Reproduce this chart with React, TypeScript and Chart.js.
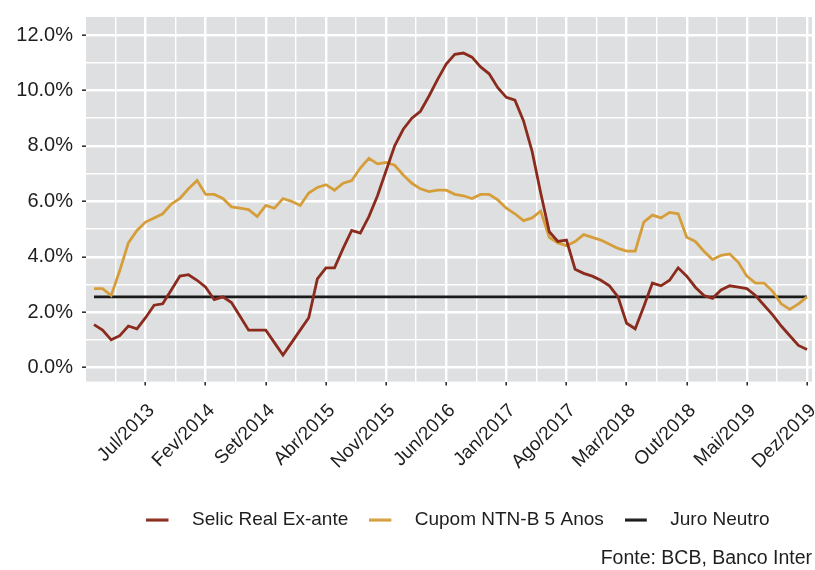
import React, { useEffect, useRef } from 'react';
import { Chart, registerables } from 'chart.js';

Chart.register(...registerables);

// Monthly values, Jan/2013 (index 0) .. Dez/2019 (index 83)
const selicRealExAnte = [
  1.55, 1.35, 1.0, 1.15, 1.5, 1.4, 1.8, 2.25, 2.3, 2.8,
  3.3, 3.35, 3.15, 2.9, 2.45, 2.55, 2.35, 1.85, 1.35, 1.35,
  1.35, 0.9, 0.45, 0.9, 1.35, 1.8, 3.2, 3.6, 3.6, 4.3,
  4.95, 4.85, 5.45, 6.2, 7.1, 8.0, 8.6, 9.0, 9.25, 9.8,
  10.4, 10.95, 11.3, 11.35, 11.2, 10.85, 10.6, 10.1, 9.75, 9.65,
  8.9, 7.8, 6.3, 4.9, 4.55, 4.6, 3.55, 3.4, 3.3, 3.15,
  2.95, 2.55, 1.6, 1.4, 2.2, 3.05, 2.95, 3.15, 3.6, 3.3,
  2.9, 2.6, 2.5, 2.8, 2.95, 2.9, 2.85, 2.6, 2.25, 1.9,
  1.5, 1.15, 0.8, 0.65,
];

const cupomNtnb5Anos = [
  2.85, 2.85, 2.6, 3.5, 4.5, 4.95, 5.25, 5.4, 5.55, 5.9,
  6.1, 6.45, 6.75, 6.25, 6.25, 6.1, 5.8, 5.75, 5.7, 5.45,
  5.85, 5.75, 6.1, 6.0, 5.85, 6.3, 6.5, 6.6, 6.4, 6.65,
  6.75, 7.2, 7.55, 7.35, 7.4, 7.3, 6.95, 6.65, 6.45, 6.35,
  6.4, 6.4, 6.25, 6.2, 6.1, 6.25, 6.25, 6.05, 5.75, 5.55,
  5.3, 5.4, 5.65, 4.7, 4.5, 4.4, 4.55, 4.8, 4.7, 4.6,
  4.45, 4.3, 4.2, 4.2, 5.25, 5.5, 5.4, 5.6, 5.55, 4.7,
  4.55, 4.2, 3.9, 4.05, 4.1, 3.8, 3.3, 3.05, 3.05, 2.75,
  2.3, 2.1, 2.3, 2.55,
];

const juroNeutro = 2.55;

const tickMonths = [6, 13, 20, 27, 34, 41, 48, 55, 62, 69, 76, 83];
const tickLabels = [
  'Jul/2013', 'Fev/2014', 'Set/2014', 'Abr/2015', 'Nov/2015', 'Jun/2016',
  'Jan/2017', 'Ago/2017', 'Mar/2018', 'Out/2018', 'Mai/2019', 'Dez/2019',
];
const yMajor = [0, 2, 4, 6, 8, 10, 12];
const yMinor = [1, 3, 5, 7, 9, 11];

const seriesLabels = ['Selic Real Ex-ante', 'Cupom NTN-B 5 Anos', 'Juro Neutro'];
const sourceText = 'Fonte: BCB, Banco Inter';

const COLORS = ['#8b2b1d', '#d69e3a', '#1a1a1a'];
const PANEL = '#dedfe1';
const TEXT = '#1e1e1e';
const FONT = "'Liberation Sans', Arial, sans-serif";

export default function App() {
  const ref = useRef<HTMLCanvasElement | null>(null);

  useEffect(() => {
    document.body.style.margin = '0';
    const canvas = ref.current;
    if (!canvas) return;

    const swatch = (color: string) => {
      const c = document.createElement('canvas');
      c.width = 36;
      c.height = 4;
      const g = c.getContext('2d')!;
      g.fillStyle = color;
      g.fillRect(0, 0.5, 22, 3);
      return c;
    };
    const swatches = COLORS.map(swatch);

    const panelPlugin = {
      id: 'panelBg',
      beforeDraw(chart: any) {
        const { ctx, chartArea: a } = chart;
        ctx.save();
        ctx.fillStyle = PANEL;
        ctx.fillRect(a.left, a.top, a.right - a.left, a.bottom - a.top);
        ctx.restore();
      },
    };

    // nudge the legend block a little to the right, as in the reference
    const legendShift = {
      id: 'legendShift',
      afterLayout(chart: any) {
        const l = chart.legend;
        if (l) {
          l.left += 9;
          l.right += 9;
        }
      },
    };

    const xMinor = tickMonths.map((m) => m - 3.5);
    const isXMajor = (v: number) => tickMonths.indexOf(v) >= 0;
    const isYMajor = (v: number) => yMajor.indexOf(v) >= 0;

    const lastIdx = selicRealExAnte.length - 1;

    const chart = new Chart(canvas, {
      type: 'line',
      data: {
        datasets: [
          {
            label: seriesLabels[0],
            data: selicRealExAnte.map((v, i) => ({ x: i, y: v })),
            borderColor: COLORS[0],
            backgroundColor: COLORS[0],
            borderWidth: 2.8,
            pointRadius: 0,
            tension: 0,
          },
          {
            label: seriesLabels[1],
            data: cupomNtnb5Anos.map((v, i) => ({ x: i, y: v })),
            borderColor: COLORS[1],
            backgroundColor: COLORS[1],
            borderWidth: 2.8,
            pointRadius: 0,
            tension: 0,
          },
          {
            label: seriesLabels[2],
            data: [
              { x: 0, y: juroNeutro },
              { x: lastIdx, y: juroNeutro },
            ],
            borderColor: COLORS[2],
            backgroundColor: COLORS[2],
            borderWidth: 2.8,
            pointRadius: 0,
            tension: 0,
          },
        ],
      },
      options: {
        animation: false,
        responsive: false,
        events: [],
        layout: { padding: { top: 17, right: 3, left: 0, bottom: 0 } },
        scales: {
          x: {
            type: 'linear',
            min: -0.93,
            max: 83.58,
            afterBuildTicks: (s: any) => {
              const vals = [...xMinor, ...tickMonths].sort((a, b) => a - b);
              s.ticks = vals.map((v) => ({ value: v }));
            },
            afterFit: (s: any) => {
              s.height = 108;
              s.paddingLeft = 0;
              s.paddingRight = 0;
            },
            border: { display: false },
            grid: {
              color: '#ffffff',
              lineWidth: (c: any) => (c.tick && isXMajor(c.tick.value) ? 2.4 : 1.4),
              tickColor: (c: any) => (c.tick && isXMajor(c.tick.value) ? '#333333' : 'rgba(0,0,0,0)'),
              tickWidth: 1.6,
              tickLength: 4,
            },
            ticks: {
              autoSkip: false,
              maxRotation: 45,
              minRotation: 45,
              padding: 14,
              labelOffset: 6,
              color: TEXT,
              font: { family: FONT, size: 19 },
              callback: (v: any) => {
                const k = tickMonths.indexOf(Number(v));
                return k >= 0 ? tickLabels[k] : '';
              },
            },
          },
          y: {
            type: 'linear',
            min: -0.506,
            max: 12.65,
            afterBuildTicks: (s: any) => {
              const vals = [...yMajor, ...yMinor].sort((a, b) => a - b);
              s.ticks = vals.map((v) => ({ value: v }));
            },
            afterFit: (s: any) => {
              s.width = 86;
              s.paddingTop = 0;
              s.paddingBottom = 0;
            },
            border: { display: false },
            grid: {
              color: '#ffffff',
              lineWidth: (c: any) => (c.tick && isYMajor(c.tick.value) ? 2.4 : 1.4),
              tickColor: (c: any) => (c.tick && isYMajor(c.tick.value) ? '#333333' : 'rgba(0,0,0,0)'),
              tickWidth: 1.6,
              tickLength: 4,
            },
            ticks: {
              autoSkip: false,
              padding: 9,
              color: TEXT,
              font: { family: FONT, size: 20 },
              callback: (v: any) => (isYMajor(Number(v)) ? Number(v).toFixed(1) + '%' : ''),
            },
          },
        },
        plugins: {
          tooltip: { enabled: false },
          legend: {
            position: 'bottom',
            fullSize: false,
            labels: {
              usePointStyle: true,
              pointStyleWidth: 36,
              boxHeight: 4,
              padding: 21,
              color: TEXT,
              font: { family: FONT, size: 19 },
              generateLabels: (ch: any) => {
                const items = (Chart as any).defaults.plugins.legend.labels.generateLabels(ch);
                items.forEach((it: any, i: number) => {
                  it.pointStyle = swatches[i];
                });
                return items;
              },
            },
          },
          subtitle: {
            display: true,
            text: sourceText,
            position: 'bottom',
            align: 'end',
            color: TEXT,
            font: { family: FONT, size: 19.5, weight: 'normal' },
            padding: { top: 7, bottom: 0 },
          },
        },
      },
      plugins: [panelPlugin, legendShift],
    } as any);

    return () => chart.destroy();
  }, []);

  return (
    <canvas
      ref={ref}
      width={815}
      height={570}
      style={{ display: 'block', width: '815px', height: '570px', background: '#ffffff' }}
    />
  );
}
